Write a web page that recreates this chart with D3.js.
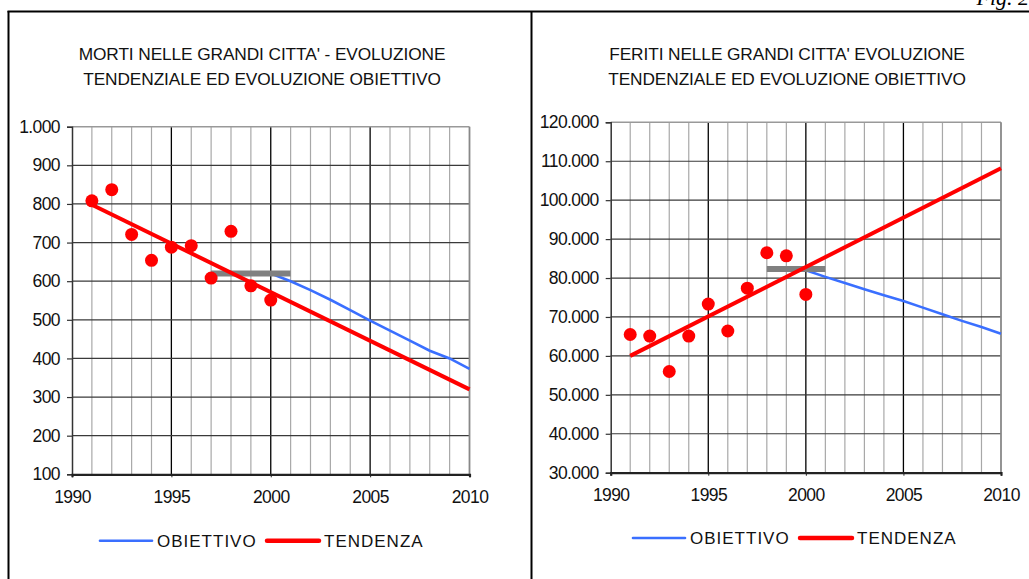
<html lang="it">
<head>
<meta charset="utf-8">
<title>Fig. 2 - Morti e feriti nelle grandi citta'</title>
<script src="https://cdnjs.cloudflare.com/ajax/libs/d3/7.8.5/d3.min.js"></script>
<style>
  body { margin: 0; background: white; }
  svg { display: block; font-family: "Liberation Sans", Arial, sans-serif; }
  .tick-label { font-size: 17.5px; fill: #111; letter-spacing: -0.6px; }
  .title { font-size: 17.3px; fill: #111; letter-spacing: -0.1px; }
  .legend { font-size: 17px; fill: #111; letter-spacing: 1px; }
  .fig { font-family: "Liberation Serif", "Times New Roman", serif; font-style: italic; font-size: 22px; }
</style>
</head>
<body>
<script>
// anni osservati
var years = [1991, 1992, 1993, 1994, 1995, 1996, 1997, 1998, 1999, 2000];
var targetYears = [2000, 2001, 2002, 2003, 2004, 2005, 2006, 2007, 2008, 2009, 2010];
var trendYears = [1991, 2010];

// MORTI
var mortiObs = [808, 837, 721, 654, 688, 692, 608, 729, 588, 551];
var mortiTrend = [798, 320];
var mortiTarget = [620, 600, 577, 552, 525, 498, 472, 446, 420, 400, 373];
var mortiBaseYears = [1997, 2001];
var mortiBase = [620, 620];
var mortiTicks = [100, 200, 300, 400, 500, 600, 700, 800, 900, 1000];

// FERITI
var feritiObs = [65500, 65100, 56000, 65100, 73300, 66400, 77400, 86500, 85700, 75800];
var feritiTrend = [60000, 108200];
var feritiTarget = [82000, 80300, 78700, 77100, 75600, 74100, 72400, 70700, 69000, 67400, 65700];
var feritiBaseYears = [1998, 2001];
var feritiBase = [82300, 82300];
var feritiTicks = [30000, 40000, 50000, 60000, 70000, 80000, 90000, 100000, 110000, 120000];

var xTickLabels = [1990, 1995, 2000, 2005, 2010];
var legendLabels = ["OBIETTIVO", "TENDENZA"];

var it = d3.formatLocale({ decimal: ",", thousands: ".", grouping: [3], currency: ["", " €"] });
var fmt = it.format(",d");

var svg = d3.select("body").append("svg")
    .attr("width", 1029)
    .attr("height", 579);

// cornice pagina
svg.append("line").attr("x1", 7.5).attr("x2", 1029).attr("y1", 11.5).attr("y2", 11.5)
    .attr("stroke", "#000").attr("stroke-width", 2);
svg.append("line").attr("x1", 8.5).attr("x2", 8.5).attr("y1", 11).attr("y2", 579)
    .attr("stroke", "#000").attr("stroke-width", 2);
svg.append("line").attr("x1", 531.5).attr("x2", 531.5).attr("y1", 11).attr("y2", 579)
    .attr("stroke", "#000").attr("stroke-width", 2);
svg.append("text").attr("class", "fig").attr("x", 1029).attr("y", 5)
    .attr("text-anchor", "end").text("Fig. 2");

function drawPanel(p) {
    var x = d3.scaleLinear().domain([1990, 2010]).range([p.left, p.right]);
    var y = d3.scaleLinear().domain(p.domain).range([p.bottom, p.top]);
    var g = svg.append("g");

    // titolo
    g.selectAll("text.title").data(p.title).enter().append("text")
        .attr("class", "title")
        .attr("x", p.titleX)
        .attr("y", function(d, i) { return 60 + i * 25; })
        .attr("text-anchor", "middle")
        .text(function(d) { return d; });

    // griglia verticale (ogni anno)
    var allYears = d3.range(1991, 2010);
    g.selectAll("line.vgrid").data(allYears).enter().append("line")
        .attr("x1", function(d) { return x(d); })
        .attr("x2", function(d) { return x(d); })
        .attr("y1", p.top).attr("y2", p.bottom)
        .attr("stroke", function(d) { return d % 5 === 0 ? "#000" : "#a8a8a8"; })
        .attr("stroke-width", function(d) { return d % 5 === 0 ? 1.3 : 1.2; });

    // griglia orizzontale
    g.selectAll("line.hgrid").data(p.ticks.slice(1, -1)).enter().append("line")
        .attr("x1", p.left).attr("x2", p.right)
        .attr("y1", function(d) { return y(d); })
        .attr("y2", function(d) { return y(d); })
        .attr("stroke", "#3a3a3a").attr("stroke-width", 1.2);

    // bordo superiore e destro
    g.append("line").attr("x1", p.left).attr("x2", p.right)
        .attr("y1", y(p.domain[1])).attr("y2", y(p.domain[1]))
        .attr("stroke", "#999").attr("stroke-width", 1.5);
    g.append("line").attr("x1", p.right).attr("x2", p.right)
        .attr("y1", p.top).attr("y2", p.bottom)
        .attr("stroke", "#888").attr("stroke-width", 1.8);

    // asse y
    var yAxis = g.append("g")
        .attr("transform", "translate(" + p.left + ",0)")
        .call(d3.axisLeft(y).tickValues(p.ticks).tickSize(5).tickPadding(7).tickFormat(fmt));
    yAxis.select(".domain").attr("stroke", "#333").attr("stroke-width", 1.5);
    yAxis.selectAll(".tick line").attr("stroke", "#333").attr("stroke-width", 1.2);
    yAxis.selectAll(".tick text").attr("class", "tick-label").attr("font-family", null).attr("font-size", null);

    // asse x
    var xAxis = g.append("g")
        .attr("transform", "translate(0," + p.bottom + ")")
        .call(d3.axisBottom(x).tickValues(xTickLabels).tickSize(3).tickPadding(13).tickFormat(d3.format("d")));
    xAxis.select(".domain").attr("stroke", "#222").attr("stroke-width", 2.2);
    xAxis.selectAll(".tick line").attr("stroke", "#222");
    xAxis.selectAll(".tick text").attr("class", "tick-label").attr("font-family", null).attr("font-size", null);

    var line = d3.line().x(function(d) { return x(d[0]); }).y(function(d) { return y(d[1]); });

    // obiettivo
    g.append("path")
        .datum(d3.zip(targetYears, p.target))
        .attr("d", line).attr("fill", "none")
        .attr("stroke", "#3a6fff").attr("stroke-width", 2.6);

    // valore di riferimento
    g.append("path")
        .datum(d3.zip(p.baseYears, p.base))
        .attr("d", line).attr("fill", "none")
        .attr("stroke", "#808080").attr("stroke-width", 6);

    // tendenza
    g.append("path")
        .datum(d3.zip(trendYears, p.trend))
        .attr("d", line).attr("fill", "none")
        .attr("stroke", "#ff0000").attr("stroke-width", 4);

    // dati osservati
    g.selectAll("circle").data(d3.zip(years, p.obs)).enter().append("circle")
        .attr("cx", function(d) { return x(d[0]); })
        .attr("cy", function(d) { return y(d[1]); })
        .attr("r", 6.5)
        .attr("fill", "#ff0000");

    // legenda
    var colors = ["#3a6fff", "#ff0000"];
    var widths = [2.6, 4.5];
    var offsets = [0, 167];
    legendLabels.forEach(function(lab, i) {
        var lx = p.legendX + offsets[i];
        g.append("line")
            .attr("x1", lx).attr("x2", lx + 52)
            .attr("y1", p.legendY).attr("y2", p.legendY)
            .attr("stroke", colors[i]).attr("stroke-width", widths[i])
            .attr("stroke-linecap", "round");
        g.append("text").attr("class", "legend")
            .attr("x", lx + 57).attr("y", p.legendY + 6)
            .text(lab);
    });
}

drawPanel({
    left: 72, right: 469.5, top: 126.7, bottom: 474.3,
    domain: [100, 1000], ticks: mortiTicks,
    obs: mortiObs, trend: mortiTrend, target: mortiTarget,
    baseYears: mortiBaseYears, base: mortiBase,
    title: ["MORTI NELLE GRANDI CITTA' - EVOLUZIONE", "TENDENZIALE ED EVOLUZIONE OBIETTIVO"],
    titleX: 262, legendX: 100, legendY: 540.7
});

drawPanel({
    left: 610.7, right: 1001, top: 122.3, bottom: 472.7,
    domain: [30000, 120000], ticks: feritiTicks,
    obs: feritiObs, trend: feritiTrend, target: feritiTarget,
    baseYears: feritiBaseYears, base: feritiBase,
    title: ["FERITI NELLE GRANDI CITTA' EVOLUZIONE", "TENDENZIALE ED EVOLUZIONE OBIETTIVO"],
    titleX: 787, legendX: 633, legendY: 538
});
</script>
</body>
</html>
